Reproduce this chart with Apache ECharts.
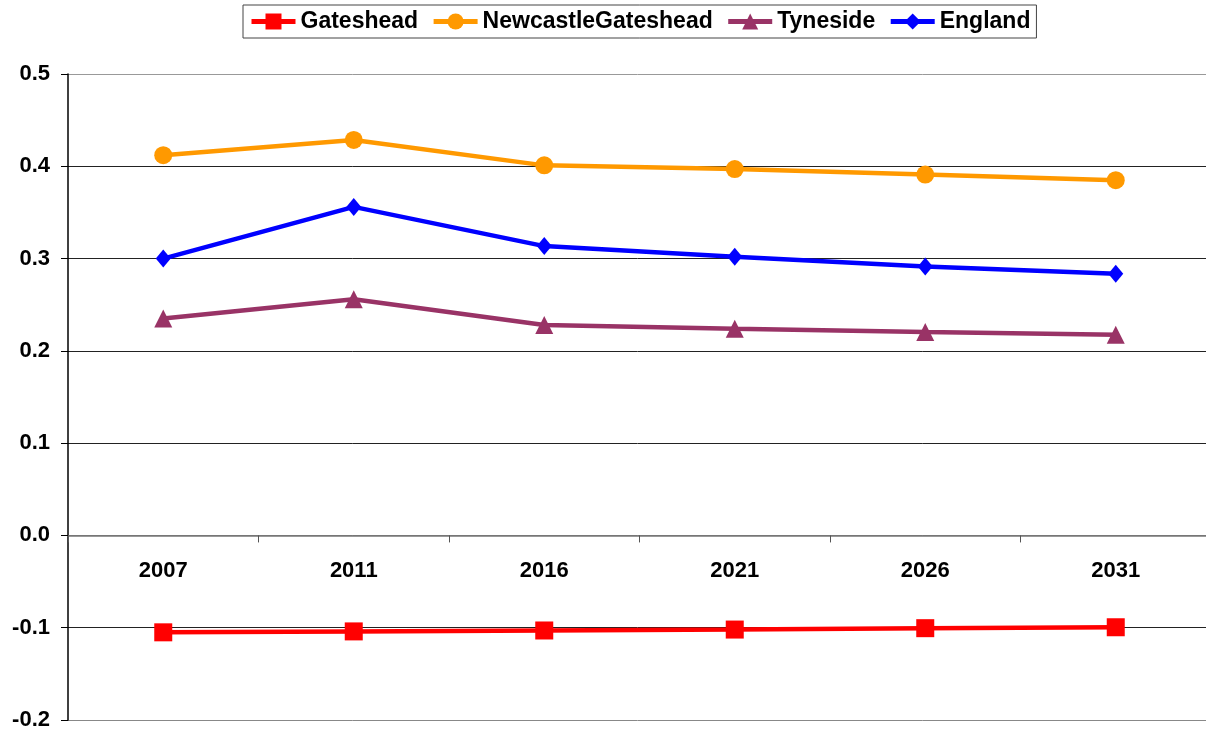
<!DOCTYPE html>
<html>
<head>
<meta charset="utf-8">
<script src="https://cdn.jsdelivr.net/npm/echarts@6/dist/echarts.min.js"></script>
<style>
html,body{margin:0;padding:0;background:#fff;}
#chart{width:1206px;height:734px;}
</style>
</head>
<body>
<div id="chart"></div>
<script>
var years = ['2007', '2011', '2016', '2021', '2026', '2031'];
var gateshead = [-0.105, -0.104, -0.103, -0.102, -0.1005, -0.0995];
var newcastleGateshead = [0.412, 0.4285, 0.401, 0.397, 0.391, 0.385];
var tyneside = [0.235, 0.256, 0.228, 0.224, 0.2205, 0.2175];
var england = [0.300, 0.356, 0.3135, 0.302, 0.2915, 0.2835];
var yTicks = [-0.2, -0.1, 0.0, 0.1, 0.2, 0.3, 0.4, 0.5];

var font = '"Liberation Sans", Arial, sans-serif';
var chartH = 734, gridTop = 74, gridBottom = 14;
var yMin = yTicks[0], yMax = yTicks[yTicks.length - 1];
var plotH = chartH - gridTop - gridBottom;
// lift the category axis (line, ticks, labels) up to the zero line
var zeroLift = -plotH * (0 - yMin) / (yMax - yMin);

var chart = echarts.init(document.getElementById('chart'));

function mk(name, data, color, symbol, size) {
  return {
    name: name, type: 'line', data: data,
    symbol: symbol, symbolSize: size,
    lineStyle: { color: color, width: 4.5 },
    itemStyle: { color: color },
    animation: false
  };
}

chart.setOption({
  animation: false,
  backgroundColor: '#ffffff',
  legend: {
    left: 243, top: 5,
    padding: [5, 6, 5, 6],
    itemWidth: 44, itemHeight: 20, itemGap: 13,
    borderColor: '#444', borderWidth: 1,
    lineStyle: { width: 5 },
    textStyle: { fontFamily: font, fontWeight: 'bold', fontSize: 23, color: '#000' },
    data: ['Gateshead', 'NewcastleGateshead', 'Tyneside', 'England']
  },
  grid: { left: 68, top: gridTop, bottom: gridBottom, width: 1143, containLabel: false, outerBoundsMode: 'none' },
  xAxis: {
    type: 'category', data: years, boundaryGap: true,
    position: 'bottom', offset: zeroLift,
    axisLine: { onZero: false, lineStyle: { color: '#777', width: 1.5 } },
    axisTick: { show: true, inside: false, length: 7, lineStyle: { color: '#555' } },
    axisLabel: { margin: 25, fontFamily: font, fontWeight: 'bold', fontSize: 22, color: '#000' },
    splitLine: { show: false }
  },
  yAxis: {
    type: 'value', min: yMin, max: yMax, interval: 0.1,
    axisLine: { show: true, lineStyle: { color: '#000', width: 1.5 } },
    axisTick: { show: true, inside: false, length: 7, lineStyle: { color: '#000' } },
    axisLabel: {
      margin: 18, fontFamily: font, fontWeight: 'bold', fontSize: 22, color: '#000',
      padding: [6, 0, 0, 0],
      formatter: function (v) { return v.toFixed(1); }
    },
    splitLine: {
      show: true,
      lineStyle: { color: ['#888', '#222', '#777', '#222', '#222', '#222', '#222', '#999'], width: 1 }
    }
  },
  series: [
    mk('Gateshead', gateshead, '#FF0000', 'rect', 18),
    mk('NewcastleGateshead', newcastleGateshead, '#FF9900', 'circle', 18),
    mk('Tyneside', tyneside, '#993366', 'triangle', 18),
    mk('England', england, '#0000FF', 'diamond', [15, 18])
  ]
});
</script>
</body>
</html>
